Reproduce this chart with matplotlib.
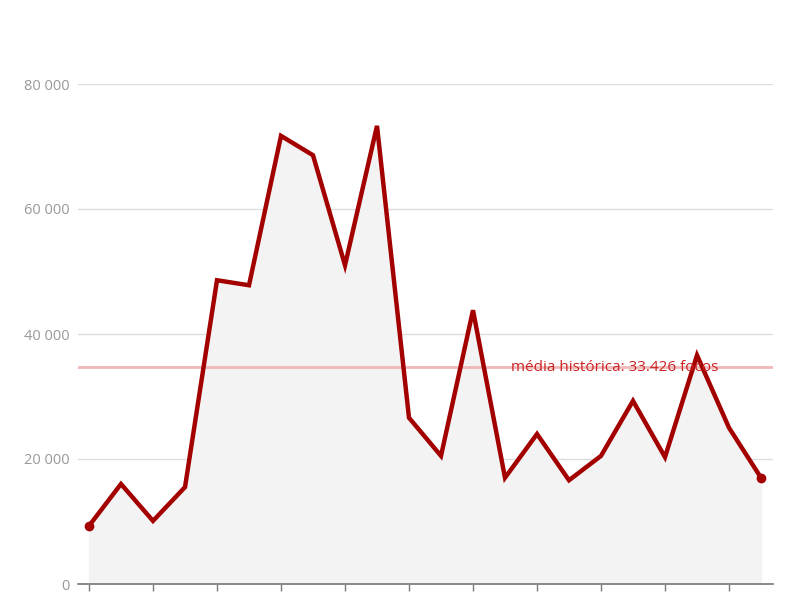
import matplotlib
matplotlib.use('Agg')
import matplotlib.pyplot as plt
import numpy as np

# valores anuais de focos
focos = [9300, 16000, 10100, 15500, 48600, 47800, 71700, 68600, 51000, 73300,
         26600, 20500, 43800, 17000, 24000, 16600, 20500, 29300, 20300, 36600,
         25000, 17000]
media_y = 34700
media_label = 'média histórica: 33.426 focos'
yticks = [0, 20000, 40000, 60000, 80000]
ytick_labels = ['0', '20 000', '40 000', '60 000', '80 000']

plt.rcParams['font.family'] = ['Open Sans', 'DejaVu Sans']

fig = plt.figure(figsize=(8, 6), dpi=100)
ax = fig.add_axes([78 / 800, 16 / 600, 695 / 800, 500 / 600])

x = np.arange(len(focos))
ax.fill_between(x, focos, 0, color='#f3f3f3', zorder=1)
ax.plot(x, focos, color='#a30000', lw=3.2, solid_joinstyle='miter', zorder=3)
ax.plot([x[0], x[-1]], [focos[0], focos[-1]], 'o', color='#a30000', ms=6, zorder=4)

ax.axhline(media_y, color='#f0b8b8', lw=2, zorder=2)
ax.text(13.2, media_y, media_label, color='#cc2222', fontsize=11,
        va='center', ha='left', zorder=5)

ax.set_xlim(-0.344, 21.375)
ax.set_ylim(0, 80000)
ax.set_yticks(yticks)
ax.set_yticklabels(ytick_labels)
ax.set_xticks(np.arange(0, 21, 2))
ax.set_xticklabels([])
ax.grid(axis='y', color='#dddddd', lw=1, zorder=0)
ax.set_axisbelow(True)

for s in ['top', 'right', 'left']:
    ax.spines[s].set_visible(False)
ax.spines['bottom'].set_color('#777777')
ax.spines['bottom'].set_linewidth(1.2)
ax.tick_params(axis='y', length=0, pad=6, labelsize=10.5, labelcolor='#999999')
ax.tick_params(axis='x', length=5, color='#777777', width=1)

fig.savefig('out.png', dpi=100)
